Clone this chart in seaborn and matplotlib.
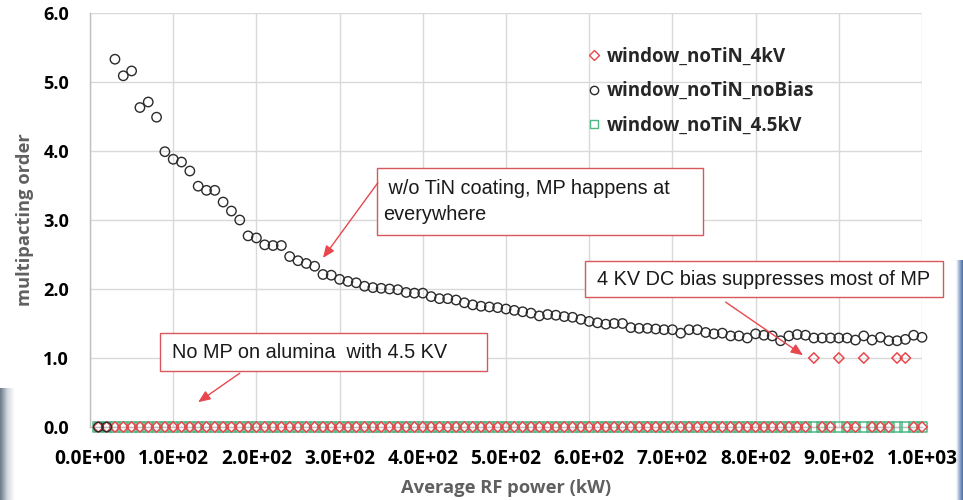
import numpy as np
import pandas as pd
import matplotlib
matplotlib.use("Agg")
import matplotlib.pyplot as plt
import seaborn as sns
from matplotlib.lines import Line2D
from matplotlib.patches import Rectangle

# ---------------- data ----------------
power_kw = [10, 20, 30, 40, 50, 60, 70, 80, 90, 100,
            110, 120, 130, 140, 150, 160, 170, 180, 190, 200,
            210, 220, 230, 240, 250, 260, 270, 280, 290, 300,
            310, 320, 330, 340, 350, 360, 370, 380, 390, 400,
            410, 420, 430, 440, 450, 460, 470, 480, 490, 500,
            510, 520, 530, 540, 550, 560, 570, 580, 590, 600,
            610, 620, 630, 640, 650, 660, 670, 680, 690, 700,
            710, 720, 730, 740, 750, 760, 770, 780, 790, 800,
            810, 820, 830, 840, 850, 860, 870, 880, 890, 900,
            910, 920, 930, 940, 950, 960, 970, 980, 990, 1000]

order_noBias = [0.00, 0.00, 5.33, 5.09, 5.16, 4.63, 4.71, 4.49, 3.99, 3.88,
                3.84, 3.71, 3.49, 3.43, 3.43, 3.26, 3.13, 3.00, 2.77, 2.74,
                2.64, 2.63, 2.63, 2.47, 2.41, 2.37, 2.33, 2.21, 2.20, 2.14,
                2.11, 2.09, 2.04, 2.02, 2.01, 2.00, 1.99, 1.95, 1.94, 1.94,
                1.89, 1.86, 1.86, 1.84, 1.80, 1.77, 1.75, 1.74, 1.73, 1.71,
                1.69, 1.67, 1.65, 1.61, 1.63, 1.62, 1.60, 1.59, 1.56, 1.53,
                1.51, 1.49, 1.50, 1.50, 1.44, 1.43, 1.43, 1.42, 1.41, 1.41,
                1.36, 1.41, 1.41, 1.37, 1.35, 1.36, 1.32, 1.32, 1.29, 1.35,
                1.33, 1.32, 1.25, 1.32, 1.34, 1.33, 1.29, 1.29, 1.29, 1.29,
                1.29, 1.26, 1.32, 1.26, 1.30, 1.25, 1.25, 1.27, 1.33, 1.30]

order_4kV = [0, 0, 0, 0, 0, 0, 0, 0, 0, 0,
             0, 0, 0, 0, 0, 0, 0, 0, 0, 0,
             0, 0, 0, 0, 0, 0, 0, 0, 0, 0,
             0, 0, 0, 0, 0, 0, 0, 0, 0, 0,
             0, 0, 0, 0, 0, 0, 0, 0, 0, 0,
             0, 0, 0, 0, 0, 0, 0, 0, 0, 0,
             0, 0, 0, 0, 0, 0, 0, 0, 0, 0,
             0, 0, 0, 0, 0, 0, 0, 0, 0, 0,
             0, 0, 0, 0, 0, 0, 1, 0, 0, 1,
             0, 0, 1, 0, 0, 0, 1, 1, 0, 0]

order_4p5kV = [0, 0, 0, 0, 0, 0, 0, 0, 0, 0,
               0, 0, 0, 0, 0, 0, 0, 0, 0, 0,
               0, 0, 0, 0, 0, 0, 0, 0, 0, 0,
               0, 0, 0, 0, 0, 0, 0, 0, 0, 0,
               0, 0, 0, 0, 0, 0, 0, 0, 0, 0,
               0, 0, 0, 0, 0, 0, 0, 0, 0, 0,
               0, 0, 0, 0, 0, 0, 0, 0, 0, 0,
               0, 0, 0, 0, 0, 0, 0, 0, 0, 0,
               0, 0, 0, 0, 0, 0, 0, 0, 0, 0,
               0, 0, 0, 0, 0, 0, 0, 0, 0, 0]

series_labels = ["window_noTiN_4kV", "window_noTiN_noBias", "window_noTiN_4.5kV"]
x_ticks = [0, 100, 200, 300, 400, 500, 600, 700, 800, 900, 1000]
x_tick_labels = ["0.0E+00", "1.0E+02", "2.0E+02", "3.0E+02", "4.0E+02", "5.0E+02",
                 "6.0E+02", "7.0E+02", "8.0E+02", "9.0E+02", "1.0E+03"]
y_ticks = [0, 1, 2, 3, 4, 5, 6]
y_tick_labels = ["0.0", "1.0", "2.0", "3.0", "4.0", "5.0", "6.0"]

note_tin = " w/o TiN coating, MP happens at\neverywhere"
note_4kv = "4 KV DC bias suppresses most of MP"
note_45kv = "No MP on alumina  with 4.5 KV"

# ---------------- style ----------------
sns.set_theme(style="whitegrid")
BOLD_FAMILY = ["Open Sans", "DejaVu Sans"]
ARIAL_FAMILY = ["Liberation Sans", "DejaVu Sans"]
plt.rcParams["font.family"] = BOLD_FAMILY

RED = "#e8474d"
GREEN = "#4cb884"
DARK = "#2b2b2b"
GRID = "#d9d9d9"
LABEL_GRAY = "#606060"

fig = plt.figure(figsize=(9.63, 5.0), dpi=100)
fig.patch.set_facecolor("white")
renderer = fig.canvas.get_renderer()


def fit_size(s, target_px, family, weight="normal"):
    """font size giving the rendered string the wanted pixel width"""
    t = fig.text(0, 0, s, fontsize=10, family=family, fontweight=weight)
    w = t.get_window_extent(renderer).width
    t.remove()
    return 10.0 * target_px / w


xtick_fs = fit_size("3.0E+02", 71, BOLD_FAMILY, "bold")
ytick_fs = fit_size("6.0", 26, BOLD_FAMILY, "bold")
legend_fs = fit_size("window_noTiN_noBias", 208, BOLD_FAMILY, "bold")
label_fs = fit_size("Average RF power (kW)", 210, BOLD_FAMILY, "bold")
note_fs = fit_size(note_4kv, 333, ARIAL_FAMILY)

# slide background edge artefacts
gl = fig.add_axes([0, 0, 14 / 963, 112 / 500])
gl.imshow(np.linspace(0, 1, 50).reshape(1, -1), cmap=matplotlib.colors.LinearSegmentedColormap.from_list(
    "g", ["#6a7888", "#d3d8de", "#ffffff"]), aspect="auto", extent=[0, 1, 0, 1])
gl.axis("off")
gr = fig.add_axes([956 / 963, 0, 7 / 963, 240 / 500])
gr.imshow(np.linspace(0, 1, 50).reshape(1, -1), cmap=matplotlib.colors.LinearSegmentedColormap.from_list(
    "b", ["#ffffff", "#9db2d2", "#4a6aa0"]), aspect="auto", extent=[0, 1, 0, 1])
gr.axis("off")

ax = fig.add_axes([90 / 963, 73 / 500, 832 / 963, 414 / 500])
ax.set_facecolor("white")

df = pd.DataFrame({"power": power_kw, "noBias": order_noBias,
                   "kv4": order_4kV, "kv45": order_4p5kV})

sns.scatterplot(data=df, x="power", y="kv45", marker="s", s=52, color=GREEN,
                facecolor="none", edgecolor=GREEN, linewidth=1.1, ax=ax,
                clip_on=False, zorder=3)
sns.scatterplot(data=df, x="power", y="kv4", marker="D", s=28, color=RED,
                facecolor="none", edgecolor=RED, linewidth=1.1, ax=ax,
                clip_on=False, zorder=4)
sns.scatterplot(data=df, x="power", y="noBias", marker="o", s=46, color=DARK,
                facecolor="none", edgecolor=DARK, linewidth=1.0, ax=ax,
                clip_on=False, zorder=5)

ax.set_xlim(0, 1000)
ax.set_ylim(0, 6)
ax.set_xticks(x_ticks)
ax.set_xticklabels(x_tick_labels)
ax.set_yticks(y_ticks)
ax.set_yticklabels(y_tick_labels)
ax.grid(True, color=GRID, linewidth=1.0)
for side in ["top", "right"]:
    ax.spines[side].set_visible(False)
for side in ["left", "bottom"]:
    ax.spines[side].set_color("#bfbfbf")
    ax.spines[side].set_linewidth(1.0)
ax.tick_params(axis="x", pad=16, length=0, labelsize=xtick_fs, labelcolor="black")
ax.tick_params(axis="y", pad=15, length=0, labelsize=ytick_fs, labelcolor="black")
for lab in ax.get_xticklabels() + ax.get_yticklabels():
    lab.set_fontweight("bold")

ax.set_xlabel("Average RF power (kW)", fontsize=label_fs, fontweight="bold",
              color=LABEL_GRAY, labelpad=7)
ax.set_ylabel("multipacting order", fontsize=label_fs, fontweight="bold",
              color=LABEL_GRAY, labelpad=7)

# legend
handles = [
    Line2D([], [], linestyle="none", marker="D", markersize=5, markerfacecolor="none",
           markeredgecolor=RED, markeredgewidth=1.0),
    Line2D([], [], linestyle="none", marker="o", markersize=6, markerfacecolor="none",
           markeredgecolor=DARK, markeredgewidth=1.0),
    Line2D([], [], linestyle="none", marker="s", markersize=6, markerfacecolor="none",
           markeredgecolor=GREEN, markeredgewidth=1.0),
]
leg = ax.legend(handles, series_labels, loc="upper left",
                bbox_to_anchor=(589 / 963, 1 - 47 / 500), bbox_transform=fig.transFigure,
                frameon=False, handlelength=0.55, handletextpad=0.4, labelspacing=0.76,
                borderpad=0, borderaxespad=0,
                prop={"family": BOLD_FAMILY, "weight": "bold", "size": legend_fs})

# annotation boxes and arrows (data coordinates)
anno_font = {"family": ARIAL_FAMILY, "size": note_fs, "color": "#1a1a1a"}
boxes = [
    (345, 2.78, 392, 0.97),
    (595, 1.88, 430, 0.53),
    (84, 0.81, 393, 0.55),
]
for (bx, by, bw, bh) in boxes:
    ax.add_patch(Rectangle((bx, by), bw, bh, facecolor="white", edgecolor="#d9575a",
                           linewidth=1.0, zorder=6, clip_on=False))
ax.text(352, 3.27, note_tin, ha="left", va="center", linespacing=1.45, zorder=7,
        clip_on=False, **anno_font)
ax.text(609, 2.14, note_4kv, ha="left", va="center", zorder=7, clip_on=False, **anno_font)
ax.text(99, 1.08, note_45kv, ha="left", va="center", zorder=7, clip_on=False, **anno_font)

arrows = [((346, 3.54), (280, 2.45)),
          ((764, 1.81), (857, 1.04)),
          ((180, 0.78), (130, 0.36))]
for start, end in arrows:
    ax.annotate("", xy=end, xytext=start, zorder=8,
                arrowprops=dict(arrowstyle="-|>,head_length=0.6,head_width=0.25",
                                color=RED, linewidth=1.0, shrinkA=0, shrinkB=0))

fig.savefig("out.png", dpi=100, facecolor="white")
